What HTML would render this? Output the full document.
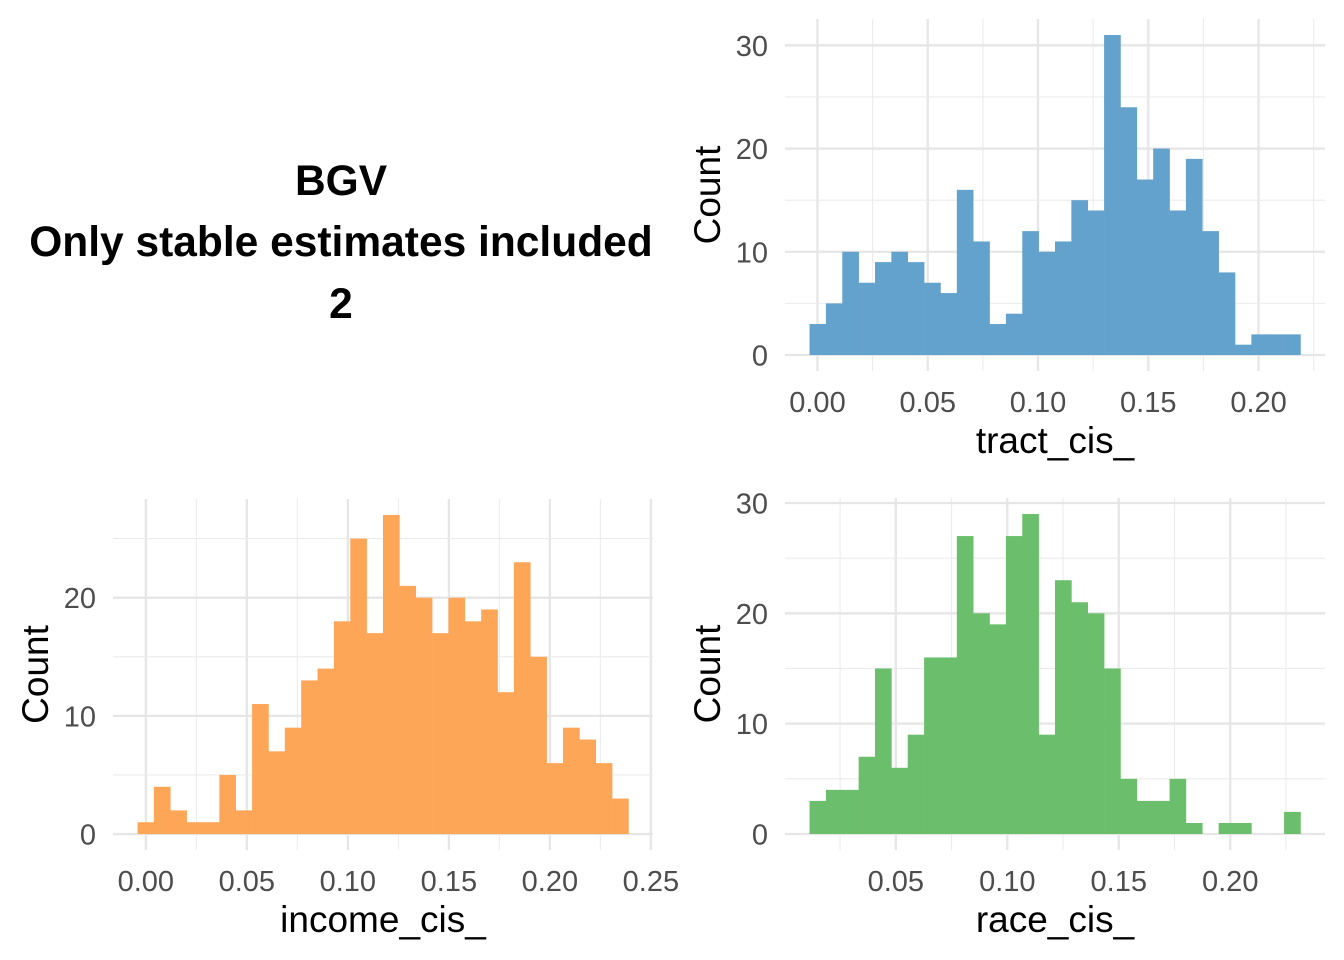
<!DOCTYPE html>
<html><head><meta charset="utf-8"><style>
html,body{margin:0;padding:0;background:#fff;}
svg{display:block;font-family:"Liberation Sans",Arial,sans-serif;}
</style></head><body>
<svg id="fig" width="1344" height="960" viewBox="0 0 1344 960">
<g font-weight="bold" font-size="42.5" text-anchor="middle" fill="#000">
<text x="341" y="195">BGV</text>
<text x="341" y="256">Only stable estimates included</text>
<text x="341" y="318">2</text>
</g>
</svg>
<script>
// tract_cis_ histogram
const tractStart = -0.0036;
const tractBinWidth = 0.00742;
const tractCounts = [3,5,10,7,9,10,9,7,6,16,11,3,4,12,10,11,15,14,31,24,17,20,14,19,12,8,1,2,2,2];
const tractXTicks = [0.00,0.05,0.10,0.15,0.20];
const tractXTickLabels = ["0.00","0.05","0.10","0.15","0.20"];
const tractYTicks = [0,10,20,30];
const tractYTickLabels = ["0","10","20","30"];
// income_cis_ histogram
const incomeStart = -0.0041;
const incomeBinWidth = 0.0081;
const incomeCounts = [1,4,2,1,1,5,2,11,7,9,13,14,18,25,17,27,21,20,17,20,18,19,12,23,15,6,9,8,6,3];
const incomeXTicks = [0.00,0.05,0.10,0.15,0.20,0.25];
const incomeXTickLabels = ["0.00","0.05","0.10","0.15","0.20","0.25"];
const incomeYTicks = [0,10,20];
const incomeYTickLabels = ["0","10","20"];
// race_cis_ histogram
const raceStart = 0.0113;
const raceBinWidth = 0.00734;
const raceCounts = [3,4,4,7,15,6,9,16,16,27,20,19,27,29,9,23,21,20,15,5,3,3,5,1,0,1,1,0,0,2];
const raceXTicks = [0.05,0.10,0.15,0.20];
const raceXTickLabels = ["0.05","0.10","0.15","0.20"];
const raceYTicks = [0,10,20,30];
const raceYTickLabels = ["0","10","20","30"];

const NS = "http://www.w3.org/2000/svg";
const svg = document.getElementById("fig");
function mk(tag, attrs, parent){
  const e = document.createElementNS(NS, tag);
  for (const k in attrs) e.setAttribute(k, attrs[k]);
  parent.appendChild(e);
  return e;
}

function drawHist(p){
  const g = mk("g", {}, svg);
  
  
  const n = p.counts.length;
  const xmin = p.start, xmax = p.start + n*p.bw;
  const xpad = (xmax-xmin)*0.05;
  const ymax = Math.max(...p.counts);
  const ypad = ymax*0.05;
  const dx0 = xmin - xpad, dx1 = xmax + xpad, dy0 = -ypad, dy1 = ymax + ypad;
  const X = v => p.L + (v-dx0)/(dx1-dx0)*(p.R-p.L);
  const Y = v => p.B - (v-dy0)/(dy1-dy0)*(p.B-p.T);
  const grid = mk("g", {}, g);
  
  
  const xs = p.xTicks;
  const xstep = xs[1]-xs[0];
  for (let v = xs[0]-xstep*4; v <= dx1; v += xstep/2){
    if (v < dx0) continue;
    const major = Math.abs(Math.round(v/xstep*2) % 2) === 0;
    mk("line", {x1:X(v),x2:X(v),y1:p.T,y2:p.B,stroke:major?"#e6e6e6":"#ececec","stroke-width":major?2.3:1.1}, grid);
  }
  const ys = p.yTicks;
  const ystep = ys[1]-ys[0];
  for (let v = 0; v <= dy1; v += ystep/2){
    const major = Math.round(v/ystep*2) % 2 === 0;
    mk("line", {x1:p.L,x2:p.R,y1:Y(v),y2:Y(v),stroke:major?"#e6e6e6":"#ececec","stroke-width":major?2.3:1.1}, grid);
  }
  const bars = mk("g", {fill:p.color}, g);
  
  
  p.counts.forEach((c,i)=>{
    if (c <= 0) return;
    const x0 = X(p.start + i*p.bw), x1 = X(p.start + (i+1)*p.bw);
    const r = mk("rect", {x:x0, y:Y(c), width:x1-x0+0.3, height:Y(0)-Y(c)}, bars);
    
    
  });
  xs.forEach((v,i)=>{
    const t = mk("text", {x:X(v), y:p.B+41, "text-anchor":"middle", "font-size":29, fill:"#4d4d4d"}, g);
    t.textContent = p.xLabels[i];
    
    
  });
  ys.forEach((v,i)=>{
    const t = mk("text", {x:p.L-17, y:Y(v)+10.5, "text-anchor":"end", "font-size":29, fill:"#4d4d4d"}, g);
    t.textContent = p.yLabels[i];
    
    
  });
  const xt = mk("text", {x:(p.L+p.R)/2, y:p.B+82, "text-anchor":"middle", "font-size":37, fill:"#000"}, g);
  xt.textContent = p.xTitle;
  
  
  const cy = (p.T+p.B)/2;
  const yt = mk("text", {x:p.yTitleX, y:cy, "text-anchor":"middle", "font-size":37, fill:"#000", transform:"rotate(-90 "+p.yTitleX+" "+cy+")"}, g);
  yt.textContent = "Count";
  
  
}

drawHist({name:"tract", start:tractStart, bw:tractBinWidth, counts:tractCounts, xTicks:tractXTicks, xLabels:tractXTickLabels, yTicks:tractYTicks, yLabels:tractYTickLabels, L:785, R:1325, T:19, B:371, color:"#63a2cc", xTitle:"tract_cis_", yTitleX:720});
drawHist({name:"income", start:incomeStart, bw:incomeBinWidth, counts:incomeCounts, xTicks:incomeXTicks, xLabels:incomeXTickLabels, yTicks:incomeYTicks, yLabels:incomeYTickLabels, L:113, R:653, T:499, B:850, color:"#fea657", xTitle:"income_cis_", yTitleX:48});
drawHist({name:"race", start:raceStart, bw:raceBinWidth, counts:raceCounts, xTicks:raceXTicks, xLabels:raceXTickLabels, yTicks:raceYTicks, yLabels:raceYTickLabels, L:785, R:1325, T:498, B:850, color:"#6bbe6b", xTitle:"race_cis_", yTitleX:720});
</script>
</body></html>
